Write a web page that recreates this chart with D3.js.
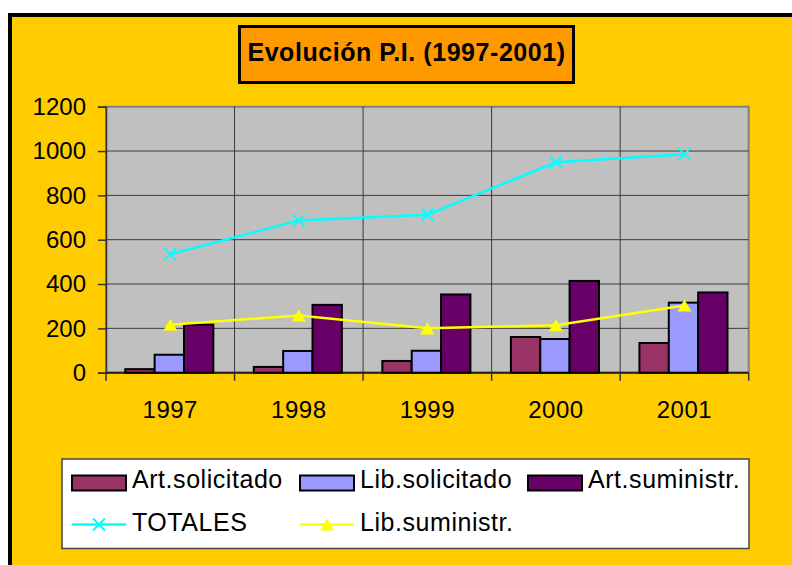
<!DOCTYPE html>
<html>
<head>
<meta charset="utf-8">
<style>
body { margin: 0; background: #fff; }
text { font-family: "Liberation Sans", Arial, sans-serif; fill: #000; }
</style>
</head>
<body>
<script src="https://cdn.jsdelivr.net/npm/d3@7/dist/d3.min.js"></script>
<script>
// data
const years = ["1997", "1998", "1999", "2000", "2001"];
const artSolicitado = [16, 26, 53, 161, 134];
const libSolicitado = [81, 98, 99, 152, 316];
const artSuministr = [217, 306, 353, 414, 362];
const totales = [534, 687, 713, 949, 986];
const libSuministr = [216, 258, 200, 214, 303];
const yTicks = [0, 200, 400, 600, 800, 1000, 1200];

const barSeries = [
    {name: "Art.solicitado", values: artSolicitado, color: "#993366"},
    {name: "Lib.solicitado", values: libSolicitado, color: "#9999FF"},
    {name: "Art.suministr.", values: artSuministr, color: "#660066"}
];

const W = 792, H = 565;
const plot = {left: 106, right: 748.7, top: 106.7, bottom: 372.7};

const svg = d3.select("body").append("svg")
    .attr("width", W)
    .attr("height", H);

// outer frame
svg.append("rect")
    .attr("x", 10).attr("y", 15)
    .attr("width", W + 20).attr("height", H + 20)
    .attr("fill", "#FFCC00")
    .attr("stroke", "#000")
    .attr("stroke-width", 4);

// title box
svg.append("rect")
    .attr("x", 239.5).attr("y", 26.5)
    .attr("width", 334).attr("height", 56)
    .attr("fill", "#FF9900")
    .attr("stroke", "#000")
    .attr("stroke-width", 3);
svg.append("text")
    .attr("x", 406.5).attr("y", 61)
    .attr("text-anchor", "middle")
    .attr("font-size", "25px")
    .attr("font-weight", "bold")
    .attr("letter-spacing", "0.55px")
    .text("Evolución P.I. (1997-2001)");

// scales
const x = d3.scaleBand().domain(years).range([plot.left, plot.right]);
const bw = x.bandwidth();
const x1 = d3.scaleBand()
    .domain(barSeries.map(d => d.name))
    .range([bw * 0.15, bw * 0.835]);
const y = d3.scaleLinear().domain([0, 1200]).range([plot.bottom, plot.top]);

// plot background
svg.append("rect")
    .attr("x", plot.left).attr("y", plot.top)
    .attr("width", plot.right - plot.left)
    .attr("height", plot.bottom - plot.top)
    .attr("fill", "#C0C0C0")
    .attr("stroke", "#808080")
    .attr("stroke-width", 2);

// grid lines
svg.append("g").selectAll("line")
    .data(yTicks.slice(1, -1))
    .join("line")
    .attr("x1", plot.left).attr("x2", plot.right)
    .attr("y1", d => y(d)).attr("y2", d => y(d))
    .attr("stroke", "#3a3a3a")
    .attr("stroke-width", 1);
svg.append("g").selectAll("line")
    .data(years.slice(1))
    .join("line")
    .attr("x1", d => x(d)).attr("x2", d => x(d))
    .attr("y1", plot.top).attr("y2", plot.bottom)
    .attr("stroke", "#3a3a3a")
    .attr("stroke-width", 1);

// y axis
const yAxis = svg.append("g")
    .attr("transform", `translate(${plot.left},0)`)
    .call(d3.axisLeft(y).tickValues(yTicks).tickSize(8).tickPadding(12).tickFormat(d3.format("d")));
yAxis.select(".domain").attr("stroke", "#333").attr("stroke-width", 1.5);
yAxis.selectAll(".tick line").attr("stroke", "#333").attr("stroke-width", 1.5);
yAxis.selectAll("text").attr("font-size", "24px").attr("fill", "#000")
    .attr("font-family", "Liberation Sans, Arial, sans-serif");

// x axis (ticks on band boundaries)
svg.append("line")
    .attr("x1", plot.left).attr("x2", plot.right)
    .attr("y1", plot.bottom).attr("y2", plot.bottom)
    .attr("stroke", "#222").attr("stroke-width", 2);
svg.append("g").selectAll("line")
    .data(years.concat(["end"]))
    .join("line")
    .attr("x1", (d, i) => plot.left + i * bw)
    .attr("x2", (d, i) => plot.left + i * bw)
    .attr("y1", plot.bottom).attr("y2", plot.bottom + 8)
    .attr("stroke", "#333").attr("stroke-width", 1.5);
svg.append("g").selectAll("text")
    .data(years)
    .join("text")
    .attr("x", d => x(d) + bw / 2)
    .attr("y", 418)
    .attr("text-anchor", "middle")
    .attr("font-size", "24px")
    .attr("letter-spacing", "0.5px")
    .text(d => d);

// bars
const groups = svg.append("g").selectAll("g")
    .data(years)
    .join("g")
    .attr("transform", d => `translate(${x(d)},0)`);
groups.selectAll("rect")
    .data((d, i) => barSeries.map(s => ({name: s.name, color: s.color, v: s.values[i]})))
    .join("rect")
    .attr("x", d => x1(d.name))
    .attr("width", x1.bandwidth())
    .attr("y", d => y(d.v))
    .attr("height", d => y(0) - y(d.v))
    .attr("fill", d => d.color)
    .attr("stroke", "#000")
    .attr("stroke-width", 2);

// lines
const cx = (d, i) => x(years[i]) + bw / 2;
const line = d3.line().x(cx).y(d => y(d));

svg.append("path")
    .datum(libSuministr)
    .attr("fill", "none")
    .attr("stroke", "#FFFF00")
    .attr("stroke-width", 2.5)
    .attr("d", line);
svg.append("g").selectAll("path")
    .data(libSuministr)
    .join("path")
    .attr("d", d3.symbol(d3.symbolTriangle).size(85))
    .attr("transform", (d, i) => `translate(${cx(d, i)},${y(d) + 2})`)
    .attr("fill", "#FFFF00");

svg.append("path")
    .datum(totales)
    .attr("fill", "none")
    .attr("stroke", "#00FFFF")
    .attr("stroke-width", 2.5)
    .attr("d", line);
svg.append("g").selectAll("path")
    .data(totales)
    .join("path")
    .attr("d", d3.symbol(d3.symbolX).size(96))
    .attr("transform", (d, i) => `translate(${cx(d, i)},${y(d)})`)
    .attr("fill", "none")
    .attr("stroke", "#00FFFF")
    .attr("stroke-width", 2);

// legend
const legend = svg.append("g");
legend.append("rect")
    .attr("x", 62).attr("y", 459)
    .attr("width", 687).attr("height", 89.5)
    .attr("fill", "#fff")
    .attr("stroke", "#444")
    .attr("stroke-width", 1.5);

const colX = [72, 300, 528];
barSeries.forEach((s, i) => {
    legend.append("rect")
        .attr("x", colX[i]).attr("y", 475.5)
        .attr("width", 54).attr("height", 15)
        .attr("fill", s.color)
        .attr("stroke", "#000")
        .attr("stroke-width", 2);
    legend.append("text")
        .attr("x", colX[i] + 60).attr("y", 488)
        .attr("font-size", "25px")
        .attr("letter-spacing", "0.55px")
        .text(s.name);
});

const lineItems = [
    {name: "TOTALES", color: "#00FFFF", symbol: d3.symbolX, size: 96, stroke: true},
    {name: "Lib.suministr.", color: "#FFFF00", symbol: d3.symbolTriangle, size: 85, stroke: false}
];
lineItems.forEach((s, i) => {
    const lx = colX[i];
    legend.append("line")
        .attr("x1", lx).attr("x2", lx + 54)
        .attr("y1", 524.5).attr("y2", 524.5)
        .attr("stroke", s.color)
        .attr("stroke-width", 2.5);
    legend.append("path")
        .attr("d", d3.symbol(s.symbol).size(s.size))
        .attr("transform", `translate(${lx + 27},${s.stroke ? 524.5 : 526.5})`)
        .attr("fill", s.stroke ? "none" : s.color)
        .attr("stroke", s.stroke ? s.color : "none")
        .attr("stroke-width", 2);
    legend.append("text")
        .attr("x", lx + 60).attr("y", 531)
        .attr("font-size", "25px")
        .attr("letter-spacing", "0.55px")
        .text(s.name);
});
</script>
</body>
</html>
